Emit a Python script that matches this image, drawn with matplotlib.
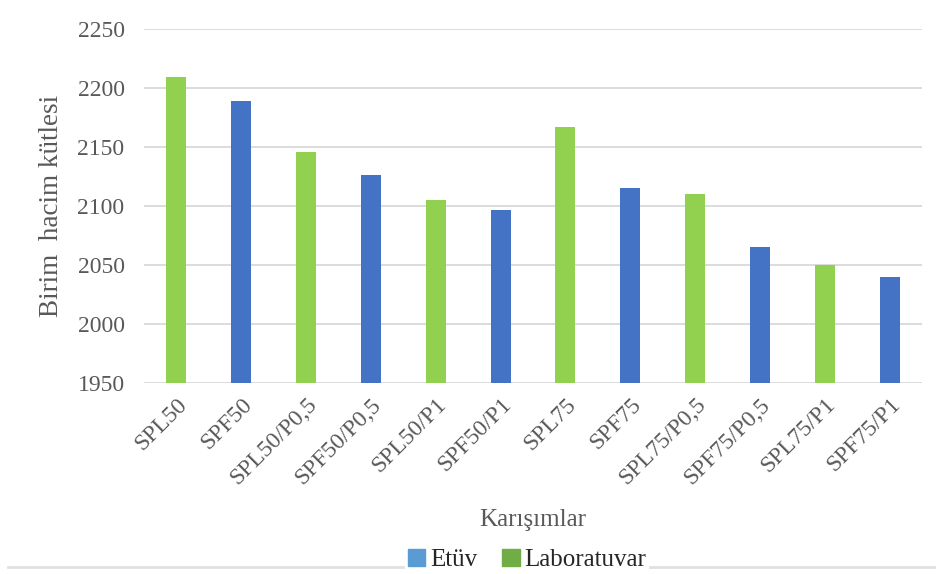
import numpy as np
import matplotlib.pyplot as plt
from matplotlib.patches import Patch
from matplotlib.lines import Line2D

plt.rcParams['font.family'] = ['Liberation Serif', 'DejaVu Serif']

mixes = ["SPL50", "SPF50", "SPL50/P0,5", "SPF50/P0,5", "SPL50/P1", "SPF50/P1",
         "SPL75", "SPF75", "SPL75/P0,5", "SPF75/P0,5", "SPL75/P1", "SPF75/P1"]
unit_mass = [2209, 2189, 2146, 2126, 2105, 2097,
             2167, 2115, 2110, 2065, 2050, 2040]
# curing method of each mix: L = laboratuvar, F = etüv
method = ["L", "F"] * 6

bar_colors = {"L": "#92D050", "F": "#4472C4"}
legend_colors = {"Etüv": "#5B9BD5", "Laboratuvar": "#70AD47"}
text_color = "#595959"

fig = plt.figure(figsize=(9.36, 5.74), dpi=100)
ax = fig.add_axes([144 / 936, 1 - 383 / 574, (922 - 144) / 936, (383 - 29) / 574])

x = np.arange(len(mixes))
ax.bar(x, [v - 1950 for v in unit_mass], bottom=1950, width=0.31,
       color=[bar_colors[m] for m in method], zorder=3)

ax.set_xlim(-0.5, len(mixes) - 0.5)
ax.set_ylim(1950, 2250)
ax.set_yticks(np.arange(1950, 2251, 50))
ax.grid(axis="y", color="#D9D9D9", linewidth=1.3, zorder=0)
for s in ax.spines.values():
    s.set_visible(False)
ax.tick_params(length=0, labelsize=17, colors=text_color)
ax.tick_params(axis="y", pad=14)
ax.set_xticks(x)
ax.set_xticklabels(mixes, rotation=45, ha="right", rotation_mode="anchor")
ax.tick_params(axis="x", pad=8)

ax.set_ylabel("Birim  hacim kütlesi", fontsize=19.5, color=text_color, labelpad=10)
fig.text(533 / 936, 1 - 520 / 574, "Karışımlar", fontsize=18, color=text_color,
         ha="center", va="center")

# border line under the legend
fig.add_artist(Line2D([8 / 936, 1], [1 - 567 / 574] * 2, transform=fig.transFigure,
                      color="#E0E0E0", linewidth=2))

handles = [Patch(color=c, label=k) for k, c in legend_colors.items()]
leg = fig.legend(handles=handles, loc="center", bbox_to_anchor=(527 / 936, 1 - 560 / 574),
                 ncol=2, frameon=True, fontsize=18, handlelength=0.7, handleheight=0.7,
                 handletextpad=0.2, columnspacing=1.0, borderpad=0.1, borderaxespad=0)
leg.get_frame().set_edgecolor("none")
leg.get_frame().set_facecolor("white")
leg.get_frame().set_alpha(1)
for t in leg.get_texts():
    t.set_color("#262626")

fig.savefig("out.png", dpi=100)
